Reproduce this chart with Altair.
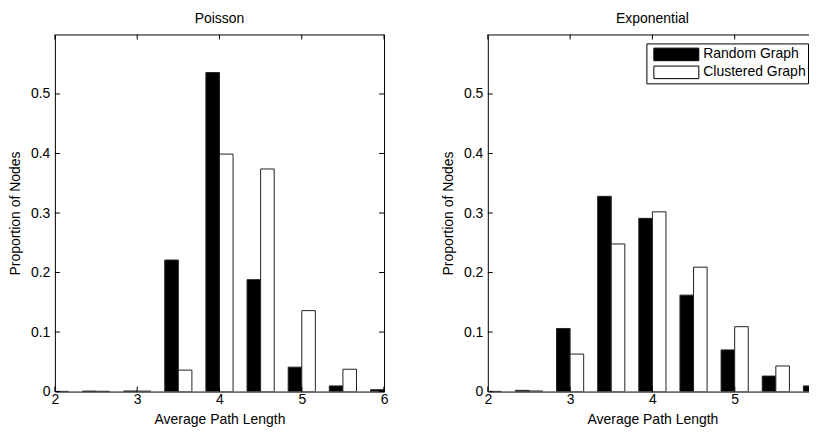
import altair as alt
import pandas as pd

# ---- data ----
centers = [2.0, 2.5, 3.0, 3.5, 4.0, 4.5, 5.0, 5.5, 6.0]
series_names = ["Random Graph", "Clustered Graph"]
poisson_random = [0.0005, 0.0008, 0.001, 0.221, 0.536, 0.188, 0.041, 0.0095, 0.003]
poisson_clustered = [0.0003, 0.0005, 0.0008, 0.036, 0.399, 0.374, 0.136, 0.0375, 0.008]
exp_random = [0.0005, 0.002, 0.106, 0.328, 0.291, 0.162, 0.070, 0.026, 0.0095]
exp_clustered = [0.0003, 0.001, 0.063, 0.248, 0.302, 0.209, 0.109, 0.043, 0.018]
x_ticks = [2, 3, 4, 5, 6]
y_ticks = [0, 0.1, 0.2, 0.3, 0.4, 0.5]

BAR_W = 0.165
W, H = 330, 358
FONT = "Liberation Sans"


def make_df(rand, clus):
    rows = []
    for c, r, k in zip(centers, rand, clus):
        rows.append({"center": c, "series": series_names[0], "value": r})
        rows.append({"center": c, "series": series_names[1], "value": k})
    return pd.DataFrame(rows)


xscale = alt.Scale(domain=[2, 6], nice=False, zero=False)
yscale = alt.Scale(domain=[0, 0.6], nice=False)
x_axis = alt.Axis(
    values=x_ticks,
    format="d",
    labelFlush=False,
    labelPadding=1,
    titlePadding=6,
    title="Average Path Length",
)
y_axis = alt.Axis(
    values=y_ticks,
    format="~g",
    labelPadding=5,
    titlePadding=8,
    title="Proportion of Nodes",
)

xt_df = pd.DataFrame({"t": x_ticks})
yt_df = pd.DataFrame({"t": y_ticks})


def panel(df, title, show_legend):
    legend = None
    if show_legend:
        legend = alt.Legend(
            title=None,
            orient="top-right",
            offset=9,
            strokeColor="black",
            fillColor="white",
            padding=2,
            symbolType="M-2.65,-0.74H2.65V0.74H-2.65Z",
            symbolSize=289,
            symbolOffset=19,
            symbolStrokeColor="black",
            symbolStrokeWidth=1,
            symbolOpacity=1,
            labelFont=FONT,
            labelFontSize=14,
            labelColor="black",
            labelOffset=18,
            rowPadding=0,
        )
    bars = (
        alt.Chart(df)
        .transform_calculate(
            x0=f"datum.series == '{series_names[0]}' ? datum.center - {BAR_W} : datum.center",
        )
        .transform_calculate(x1=f"datum.x0 + {BAR_W}")
        .mark_rect(clip=True, stroke="#222222", strokeWidth=1, opacity=1)
        .encode(
            x=alt.X("x0:Q", scale=xscale, axis=x_axis),
            x2="x1:Q",
            y=alt.Y("value:Q", scale=yscale, axis=y_axis),
            y2=alt.datum(0),
            fill=alt.Fill(
                "series:N",
                scale=alt.Scale(domain=series_names, range=["black", "white"]),
                legend=legend,
            ),
        )
    )
    tick_style = dict(color="black", strokeWidth=1)
    xt_bottom = alt.Chart(xt_df).mark_rule(**tick_style).encode(
        x=alt.X("t:Q", scale=xscale, axis=x_axis), y=alt.value(H), y2=alt.value(H - 5)
    )
    xt_top = alt.Chart(xt_df).mark_rule(**tick_style).encode(
        x=alt.X("t:Q", scale=xscale, axis=x_axis), y=alt.value(0), y2=alt.value(5)
    )
    yt_left = alt.Chart(yt_df).mark_rule(**tick_style).encode(
        y=alt.Y("t:Q", scale=yscale, axis=y_axis), x=alt.value(0), x2=alt.value(5)
    )
    yt_right = alt.Chart(yt_df).mark_rule(**tick_style).encode(
        y=alt.Y("t:Q", scale=yscale, axis=y_axis), x=alt.value(W), x2=alt.value(W - 5)
    )
    return alt.layer(bars, xt_bottom, xt_top, yt_left, yt_right).properties(
        width=W, height=H, title=title
    )


left = panel(make_df(poisson_random, poisson_clustered), "Poisson", False)
right = panel(make_df(exp_random, exp_clustered), "Exponential", True)

chart = (
    alt.hconcat(left, right, spacing=52)
    .resolve_scale(fill="independent")
    .resolve_legend(fill="independent")
    .properties(padding={"left": 0, "top": 3, "right": -13, "bottom": 0})
    .configure_axis(
        labelFont=FONT,
        labelFontSize=14,
        labelColor="black",
        titleFont=FONT,
        titleFontSize=14,
        titleFontWeight="normal",
        titleColor="black",
        domain=False,
        ticks=False,
        grid=False,
    )
    .configure_title(font=FONT, fontSize=14, fontWeight="normal", color="black", offset=8)
    .configure_view(stroke="black", strokeWidth=1)
)

chart.save("out.html", embed_options={"renderer": "svg", "actions": False})
